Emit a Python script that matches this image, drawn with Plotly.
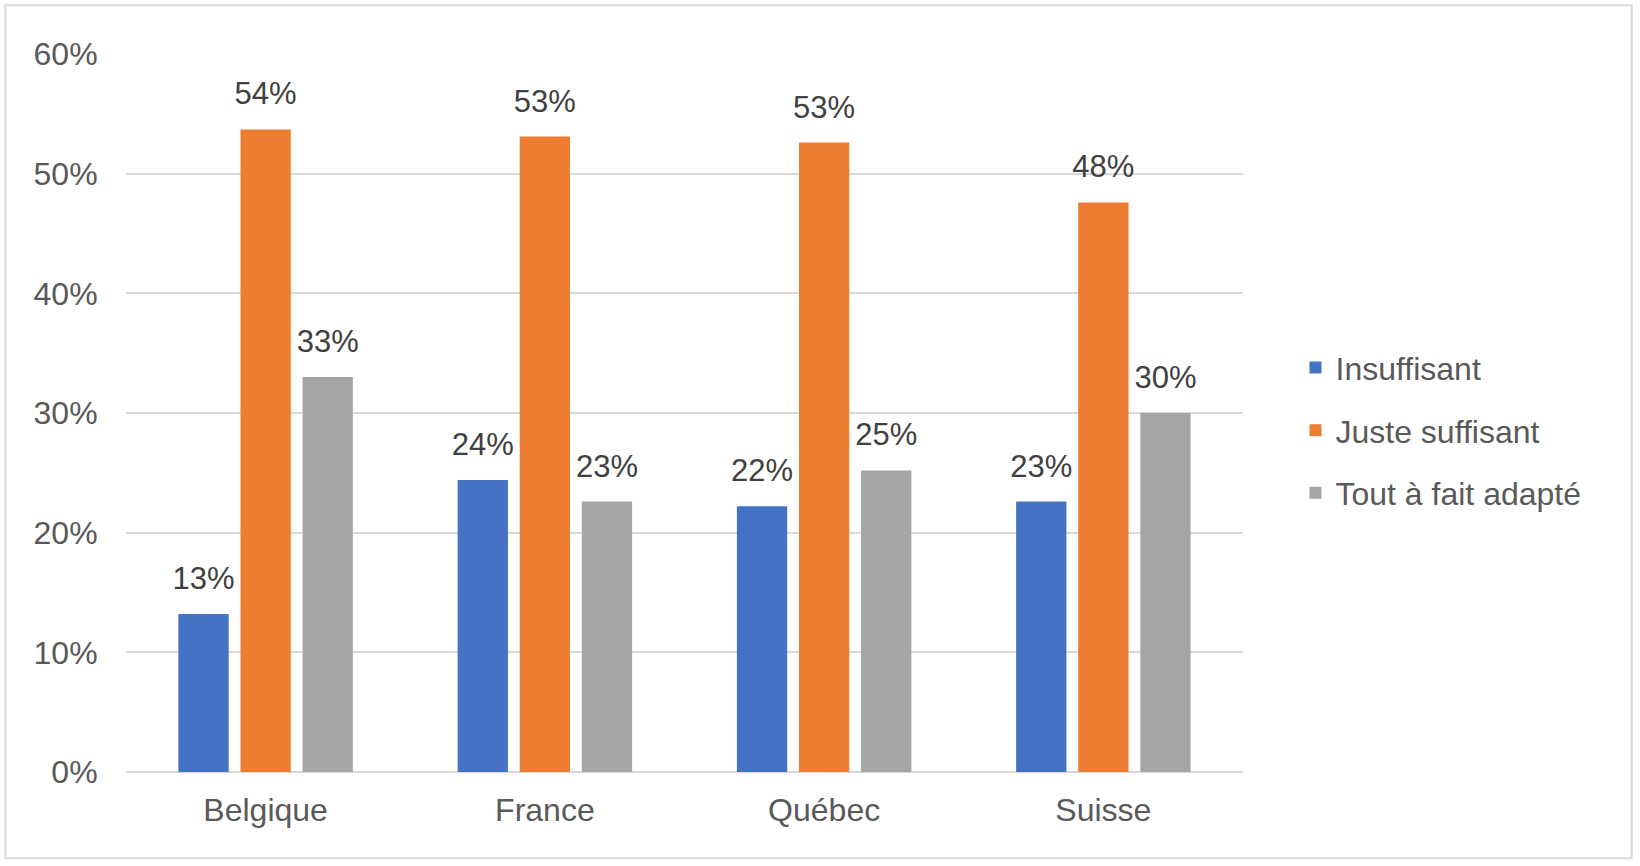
import plotly.graph_objects as go

categories = ["Belgique", "France", "Québec", "Suisse"]
series_names = ["Insuffisant", "Juste suffisant", "Tout à fait adapté"]
insuffisant = [0.132, 0.244, 0.222, 0.226]
juste_suffisant = [0.537, 0.531, 0.526, 0.476]
tout_a_fait = [0.330, 0.226, 0.252, 0.300]
colors = ["#4472C4", "#ED7D31", "#A5A5A5"]
y_ticks = [0, 0.1, 0.2, 0.3, 0.4, 0.5, 0.6]

FONT = "Liberation Sans, Arial, Helvetica, sans-serif"
all_series = [insuffisant, juste_suffisant, tout_a_fait]

fig = go.Figure()
for i, (name, vals, col) in enumerate(zip(series_names, all_series, colors)):
    fig.add_trace(go.Bar(
        x=categories, y=vals, name=name, marker=dict(color=col, line=dict(width=0)),
        offsetgroup=str(i), legendgroup=str(i),
    ))
for i, (name, vals, col) in enumerate(zip(series_names, all_series, colors)):
    fig.add_trace(go.Scatter(
        x=categories, y=vals, mode="markers+text", offsetgroup=str(i),
        text=[f"{round(v*100):d}%" for v in vals], textposition="top center",
        textfont=dict(family=FONT, size=31, color="#404040"),
        marker=dict(size=26, opacity=0), showlegend=False, hoverinfo="skip", cliponaxis=False,
    ))

fig.update_layout(
    width=1640, height=866,
    margin=dict(l=126, r=397, t=54, b=94),
    paper_bgcolor="white", plot_bgcolor="white",
    barmode="group", scattermode="group", bargap=0.333, bargroupgap=0.19,
    font=dict(family=FONT, color="#595959"),
    legend=dict(x=1.047, y=0.476, xanchor="left", yanchor="middle",
                font=dict(family=FONT, size=32, color="#595959"),
                tracegroupgap=18, bgcolor="rgba(0,0,0,0)"),
    shapes=[dict(type="rect", xref="paper", yref="paper",
                 x0=-0.108, x1=1.348, y0=-0.12, y1=1.068,
                 line=dict(color="#D9D9D9", width=2), fillcolor="rgba(0,0,0,0)", layer="below")],
)
fig.update_xaxes(showgrid=False, showline=False, ticks="outside", ticklen=10,
                 tickcolor="rgba(0,0,0,0)", tickfont=dict(family=FONT, size=32, color="#595959"))
fig.update_yaxes(range=[0, 0.6], tickvals=y_ticks, tickformat=".0%", showgrid=True,
                 gridcolor="#D9D9D9", gridwidth=2, zeroline=True, zerolinecolor="#D9D9D9",
                 zerolinewidth=2, showline=False, ticks="outside", ticklen=21,
                 tickcolor="rgba(0,0,0,0)", tickfont=dict(family=FONT, size=32, color="#595959"))

fig.write_html("out.html", config={"displayModeBar": False},
               post_script="document.body.style.margin='0';document.body.style.overflow='hidden';")
